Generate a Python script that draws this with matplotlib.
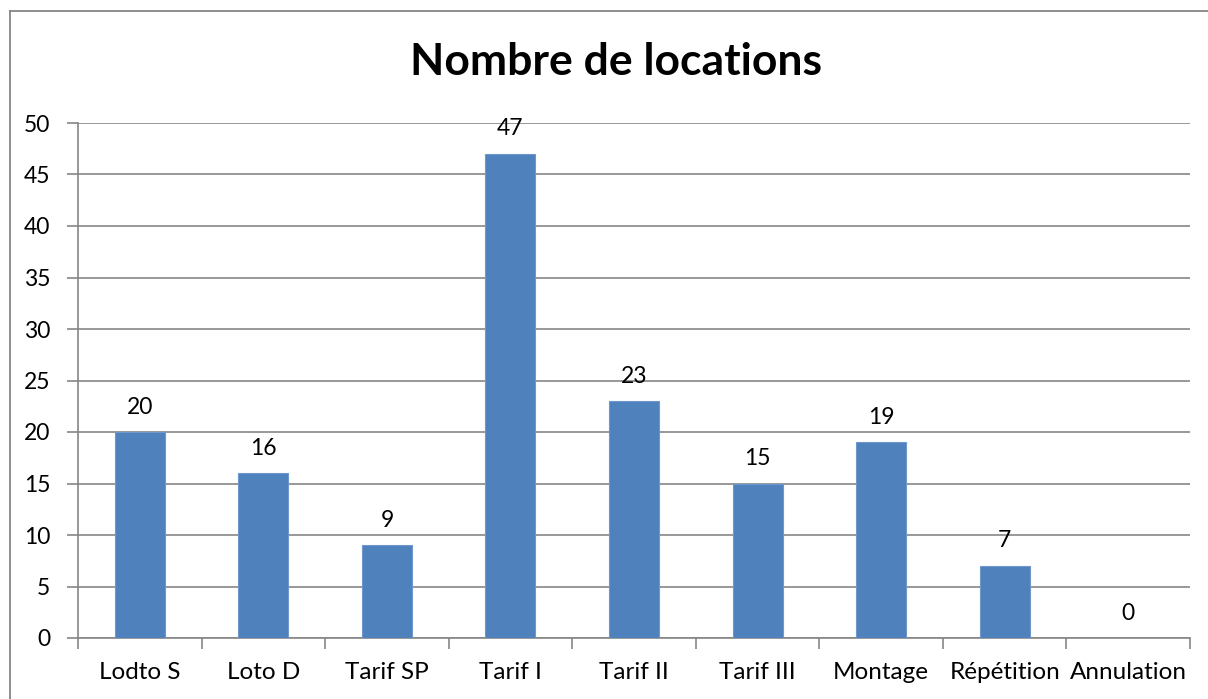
import matplotlib.pyplot as plt
import matplotlib.lines as mlines
import numpy as np

categories = ["Lodto S", "Loto D", "Tarif SP", "Tarif I", "Tarif II",
              "Tarif III", "Montage", "Répétition", "Annulation"]
values = [20, 16, 9, 47, 23, 15, 19, 7, 0]
yticks = [0, 5, 10, 15, 20, 25, 30, 35, 40, 45, 50]

W, H = 1208, 699
plt.rcParams['font.family'] = ['Lato', 'DejaVu Sans']
fig = plt.figure(figsize=(W / 100, H / 100), dpi=100)

# plot area in pixels: left 78, right 1190, top 123, bottom 638
ax = fig.add_axes([78 / W, 1 - 638 / H, (1190 - 78) / W, (638 - 123) / H])

x = np.arange(len(categories))
bars = ax.bar(x, values, width=0.405, color='#4F81BD', edgecolor='#6E97CB',
              linewidth=0.8, zorder=3)
for xi, v in zip(x, values):
    ax.text(xi, v + 1.4, str(v), ha='center', va='bottom', fontsize=16.5)

ax.set_xlim(-0.5, len(categories) - 0.5)
ax.set_ylim(0, 50)
ax.set_yticks(yticks)
ax.set_yticklabels([str(t) for t in yticks], fontsize=16.5)
ax.yaxis.grid(True, color='#868686', linewidth=1.2, zorder=0)

ax.set_xticks(x)
ax.set_xticklabels(categories, fontsize=17.5)
ax.set_xticks(np.arange(-0.5, len(categories), 1), minor=True)
ax.tick_params(axis='x', which='major', length=0, pad=17)
ax.tick_params(axis='x', which='minor', length=8, color='#868686', width=1.2)
ax.tick_params(axis='y', length=8, color='#868686', width=1.2, pad=12)

for s in ['top', 'right']:
    ax.spines[s].set_visible(False)
for s in ['left', 'bottom']:
    ax.spines[s].set_color('#868686')
    ax.spines[s].set_linewidth(1.2)

fig.text(616 / W, 1 - 62 / H, "Nombre de locations", ha='center', va='center',
         fontsize=32, fontweight='bold')

# chart area border (cropped at right and bottom)
fig.add_artist(mlines.Line2D([9.5 / W, 9.5 / W], [0, 1 - 11 / H],
                             transform=fig.transFigure, color='#868686', lw=1.3))
fig.add_artist(mlines.Line2D([9.5 / W, 1], [1 - 11 / H, 1 - 11 / H],
                             transform=fig.transFigure, color='#868686', lw=1.3))

fig.savefig('out.png', dpi=100)
